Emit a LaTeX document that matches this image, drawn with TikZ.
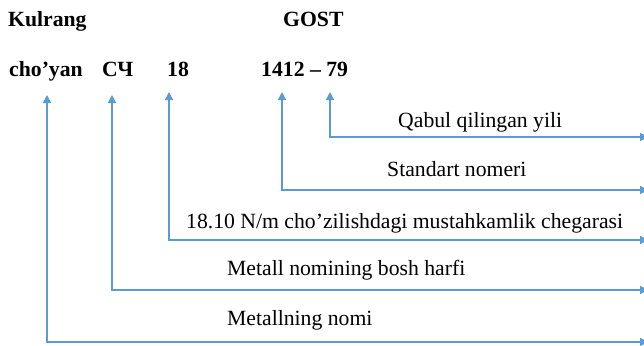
\documentclass[tikz,border=0pt]{standalone}
\usepackage{fontspec}
\setmainfont{Liberation Serif}
\usetikzlibrary{arrows.meta}
\definecolor{lineblue}{RGB}{91,155,213}
\begin{document}
\begin{tikzpicture}[x=1pt,y=-1pt,
  txt/.style={anchor=base west,inner sep=0pt,font=\fontsize{21.7}{26}\selectfont},
  btxt/.style={txt,font=\fontsize{21.7}{26}\selectfont\bfseries},
  conn/.style={draw=lineblue,line width=1.5pt,
    {Triangle[length=8pt,width=8pt]}-{Triangle[length=8pt,width=8pt]}}]
\useasboundingbox (0,0) rectangle (644,345);
\node[btxt] (kul) at (8,27) {Kulrang};
\node[btxt] (gost) at (283,27) {GOST};
\node[btxt] (chy) at (9,76) {cho’yan};
\node[btxt] (sch) at (102,76) {СЧ};
\node[btxt] (eig) at (167,76) {18};
\node[btxt] (num) at (261,76) {1412 – 79};
\node[txt] (l1) at (398,127) {Qabul qilingan yili};
\node[txt] (l2) at (387,176) {Standart nomeri};
\node[txt] (l3) at (186,228) {18.10 N/m cho’zilishdagi mustahkamlik chegarasi};
\node[txt] (l4) at (227,275) {Metall nomining bosh harfi};
\node[txt] (l5) at (227,325) {Metallning nomi};
\coordinate (t1) at (330,92);
\coordinate (t2) at (282,92);
\coordinate (t3) at (169,92);
\coordinate (t4) at (112,95);
\coordinate (t5) at (47,95);
\coordinate (e1) at (648,137);
\coordinate (e2) at (648,190);
\coordinate (e3) at (648,240);
\coordinate (e4) at (648,290);
\coordinate (e5) at (648,342);
\draw[conn] (t1) |- (e1);
\draw[conn] (t2) |- (e2);
\draw[conn] (t3) |- (e3);
\draw[conn] (t4) |- (e4);
\draw[conn] (t5) |- (e5);
\end{tikzpicture}
\end{document}
